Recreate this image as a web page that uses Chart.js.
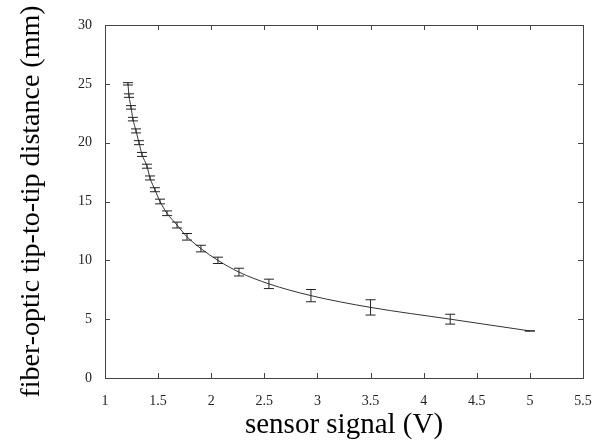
<!DOCTYPE html>
<html>
<head>
<meta charset="utf-8">
<script src="https://cdn.jsdelivr.net/npm/chart.js@4/dist/chart.umd.min.js"></script>
<style>
body{margin:0;background:#fff;}
canvas{display:block;}
</style>
</head>
<body>
<canvas id="c" width="601" height="444"></canvas>
<script>
// sensor signal (V) vs distance (mm)
const signalV=[1.216,1.226,1.245,1.263,1.292,1.32,1.348,1.395,1.424,1.47,1.518,1.584,1.678,1.772,1.903,2.063,2.261,2.543,2.939,3.5,4.25,5.0];
const distMm=[25,24,23,22,21,20,19,18,17,16,15,14,13,12,11,10,9,8,7,6,5,4];
const errMm=[0.1,0.15,0.15,0.15,0.17,0.17,0.17,0.17,0.17,0.17,0.2,0.2,0.25,0.28,0.28,0.27,0.33,0.4,0.52,0.65,0.42,0];
const xTicks=[1,1.5,2,2.5,3,3.5,4,4.5,5,5.5];
const yTicks=[0,5,10,15,20,25,30];

const serif="'Liberation Serif','Times New Roman',serif";
const ink="#222";

const errorBars={
    id:"errorBars",
    afterDatasetsDraw(chart){
        let ctx=chart.ctx,xs=chart.scales.x,ys=chart.scales.y;
        ctx.save();
        ctx.strokeStyle=ink;
        ctx.lineWidth=1;
        for(let i=0;i<signalV.length;i++){
            let px=xs.getPixelForValue(signalV[i]);
            let top=ys.getPixelForValue(distMm[i]+errMm[i]);
            let bot=ys.getPixelForValue(distMm[i]-errMm[i]);
            ctx.beginPath();
            ctx.moveTo(px,top);ctx.lineTo(px,bot);
            ctx.moveTo(px-5,top);ctx.lineTo(px+5,top);
            ctx.moveTo(px-5,bot);ctx.lineTo(px+5,bot);
            ctx.stroke();
        }
        ctx.restore();
    }
};

// matlab style box with inward ticks
const frame={
    id:"frame",
    afterDraw(chart){
        let ctx=chart.ctx,a=chart.chartArea,xs=chart.scales.x,ys=chart.scales.y;
        ctx.save();
        ctx.strokeStyle="#444";
        ctx.lineWidth=1;
        ctx.strokeRect(a.left+0.5,a.top+0.5,a.right-a.left,a.bottom-a.top);
        ctx.beginPath();
        xTicks.forEach(v=>{
            let p=Math.round(xs.getPixelForValue(v))+0.5;
            ctx.moveTo(p,a.bottom);ctx.lineTo(p,a.bottom-5);
            ctx.moveTo(p,a.top);ctx.lineTo(p,a.top+5);
        });
        yTicks.forEach(v=>{
            let p=Math.round(ys.getPixelForValue(v))+0.5;
            ctx.moveTo(a.left,p);ctx.lineTo(a.left+5,p);
            ctx.moveTo(a.right,p);ctx.lineTo(a.right-5,p);
        });
        ctx.stroke();
        ctx.restore();
    }
};

new Chart(document.getElementById("c"),{
    type:"scatter",
    data:{
        datasets:[{
            data:signalV.map((x,i)=>({x:x,y:distMm[i]})),
            showLine:true,
            borderColor:"#333",
            borderWidth:1,
            pointRadius:0,
            cubicInterpolationMode:"monotone"
        }]
    },
    options:{
        responsive:false,
        animation:false,
        layout:{padding:{left:0,right:18,top:25,bottom:0}},
        plugins:{legend:{display:false},tooltip:{enabled:false}},
        scales:{
            x:{
                type:"linear",min:1,max:5.5,
                afterBuildTicks:s=>{s.ticks=xTicks.map(v=>({value:v}));},
                afterFit:s=>{s.height=66;},
                grid:{display:false},
                border:{display:false},
                ticks:{color:ink,padding:7,maxRotation:0,font:{family:serif,size:14},callback:v=>String(v)},
                title:{display:true,text:"sensor signal (V)",color:"#000",font:{family:serif,size:29,weight:"normal"},padding:{top:2,bottom:1}}
            },
            y:{
                type:"linear",min:0,max:30,
                afterBuildTicks:s=>{s.ticks=yTicks.map(v=>({value:v}));},
                afterFit:s=>{s.width=105;},
                grid:{display:false},
                border:{display:false},
                ticks:{color:ink,padding:5,font:{family:serif,size:14},callback:v=>String(v)},
                title:{display:true,text:"fiber-optic tip-to-tip distance (mm)",color:"#000",font:{family:serif,size:28,weight:"normal"},padding:{top:15,bottom:4}}
            }
        }
    },
    plugins:[errorBars,frame]
});
</script>
</body>
</html>
